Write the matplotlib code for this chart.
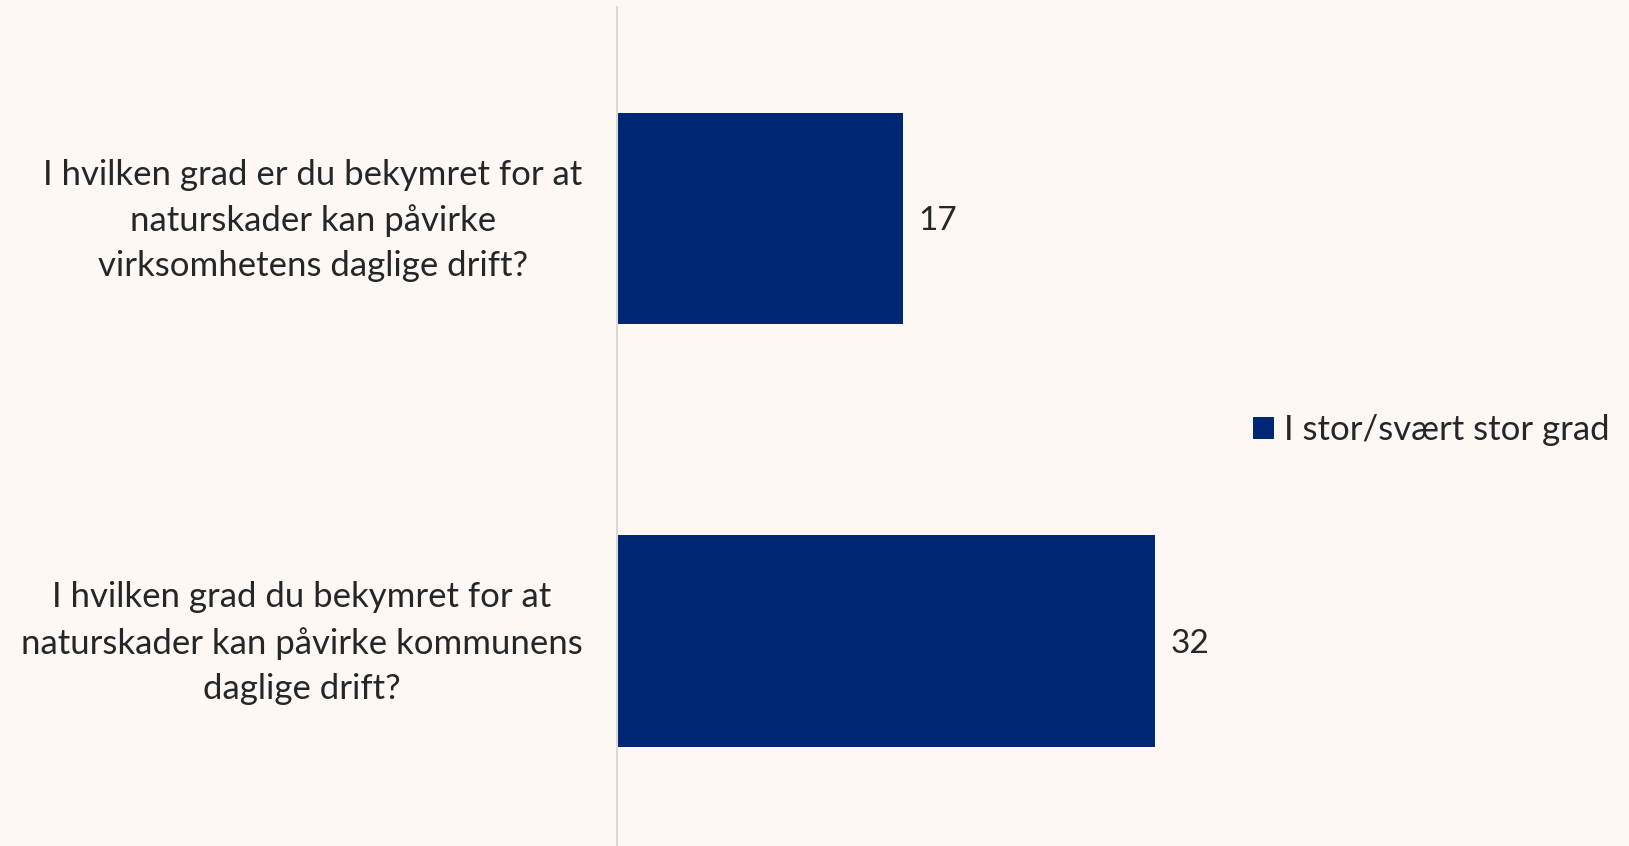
import matplotlib.pyplot as plt
from matplotlib.transforms import ScaledTranslation

# survey questions and share answering "I stor/svært stor grad"
questions = [
    "I hvilken grad er du bekymret for at\nnaturskader kan påvirke\nvirksomhetens daglige drift?",
    "I hvilken grad du bekymret for at\nnaturskader kan påvirke kommunens\ndaglige drift?",
]
values = [17, 32]
series_name = "I stor/svært stor grad"

bg = "#FDF8F4"
bar_color = "#002776"
text_color = "#262626"

plt.rcParams['font.family'] = ['Lato', 'DejaVu Sans']

fig = plt.figure(figsize=(16.29, 8.46), dpi=100, facecolor=bg)
ax = fig.add_axes([617 / 1629, 0, (1180 - 617) / 1629, 1 - 7 / 846], facecolor=bg)

pos = list(range(len(questions)))
bars = ax.barh(pos, values, height=0.5, color=bar_color, label=series_name)

for p, v in zip(pos, values):
    ax.text(v + 0.95, p, str(v), va="center_baseline", ha="left", fontsize=24, color=text_color)

ax.set_xlim(0, (1180 - 617) / 16.8)
ax.set_ylim(1.485, -0.5)
ax.set_yticks(pos)
ax.set_yticklabels(questions, fontsize=25, color=text_color, multialignment="center", linespacing=1.5)
ax.tick_params(axis="y", length=0, pad=25)
ax.set_xticks([])
# nudge the question text up a little
shift = ScaledTranslation(0, 0.075, fig.dpi_scale_trans)
for lab in ax.get_yticklabels():
    lab.set_transform(lab.get_transform() + shift)

for s in ["top", "right", "bottom"]:
    ax.spines[s].set_visible(False)
ax.spines["left"].set_color("#D9D9D9")
ax.spines["left"].set_linewidth(1.5)

leg = fig.legend(loc="center left", bbox_to_anchor=(1222 / 1629, 1 - 430 / 846), frameon=False,
                 fontsize=25, handlelength=0.6, handleheight=0.6, handletextpad=0.3)
for t in leg.get_texts():
    t.set_color(text_color)

fig.savefig("out.png", dpi=100, facecolor=bg)
